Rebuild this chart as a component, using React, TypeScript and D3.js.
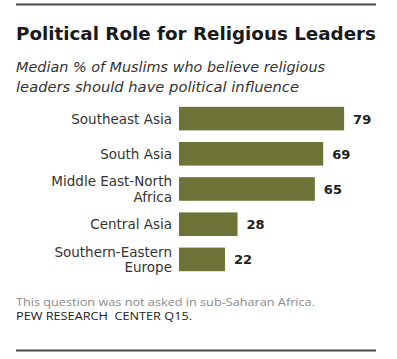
import React from 'react';
import * as d3 from 'd3';

const regions = [
  ['Southeast Asia'],
  ['South Asia'],
  ['Middle East-North', 'Africa'],
  ['Central Asia'],
  ['Southern-Eastern', 'Europe'],
];
const values = [79, 69, 65, 28, 22];

const W = 397;
const H = 359;

const App = () => {
  const keys = regions.map(r => r.join(' '));

  const x = d3.scaleLinear().domain([0, 100]).range([179, 179 + 209]);
  const y = d3.scaleBand().domain(keys).range([101, 277]).paddingInner(0.33).paddingOuter(0.165);

  const font = "'DejaVu Sans', Verdana, sans-serif";

  return (
    <svg width={W} height={H} style={{ position: 'absolute', left: 0, top: 0, background: '#fff' }}>
      <line x1={16} x2={376} y1={4.5} y2={4.5} stroke="#4a4a4a" strokeWidth={2} />

      <text x={16} y={40} fontFamily={font} fontWeight="bold" fontSize={17} fill="#1a1a1a"
        textLength={360} lengthAdjust="spacingAndGlyphs">
        Political Role for Religious Leaders
      </text>
      <text x={16} y={72} fontFamily={font} fontStyle="italic" fontSize={14} fill="#333"
        textLength={309} lengthAdjust="spacingAndGlyphs">
        Median % of Muslims who believe religious
      </text>
      <text x={16} y={92} fontFamily={font} fontStyle="italic" fontSize={14} fill="#333"
        textLength={283} lengthAdjust="spacingAndGlyphs">
        leaders should have political influence
      </text>

      {keys.map((k, i) => {
        const y0 = y(k);
        const bh = y.bandwidth();
        const lines = regions[i];
        const cy = y0 + bh / 2;
        return (
          <g key={k}>
            <rect x={x(0)} y={y0} width={x(values[i]) - x(0)} height={bh} fill="#6e7337" />
            {lines.map((t, j) => (
              <text key={j} x={172} y={cy + 5 + (j - (lines.length - 1) / 2) * 15.5}
                textAnchor="end" fontFamily={font} fontSize={13.5} fill="#333">
                {t}
              </text>
            ))}
            <text x={x(values[i]) + 9} y={cy + 5} fontFamily={font} fontWeight="bold"
              fontSize={13} fill="#222">
              {values[i]}
            </text>
          </g>
        );
      })}

      <text x={16} y={306} fontFamily="'Open Sans', sans-serif" fontSize={11.5} fill="#8a8a8a"
        textLength={299} lengthAdjust="spacingAndGlyphs">
        This question was not asked in sub-Saharan Africa.
      </text>
      <text x={16} y={320} fontFamily="'Open Sans', sans-serif" fontSize={11.5} fill="#222"
        textLength={176} lengthAdjust="spacingAndGlyphs" xmlSpace="preserve">
        PEW RESEARCH  CENTER Q15.
      </text>

      <line x1={16} x2={376} y1={350.5} y2={350.5} stroke="#4a4a4a" strokeWidth={2} />
    </svg>
  );
};

export default App;
